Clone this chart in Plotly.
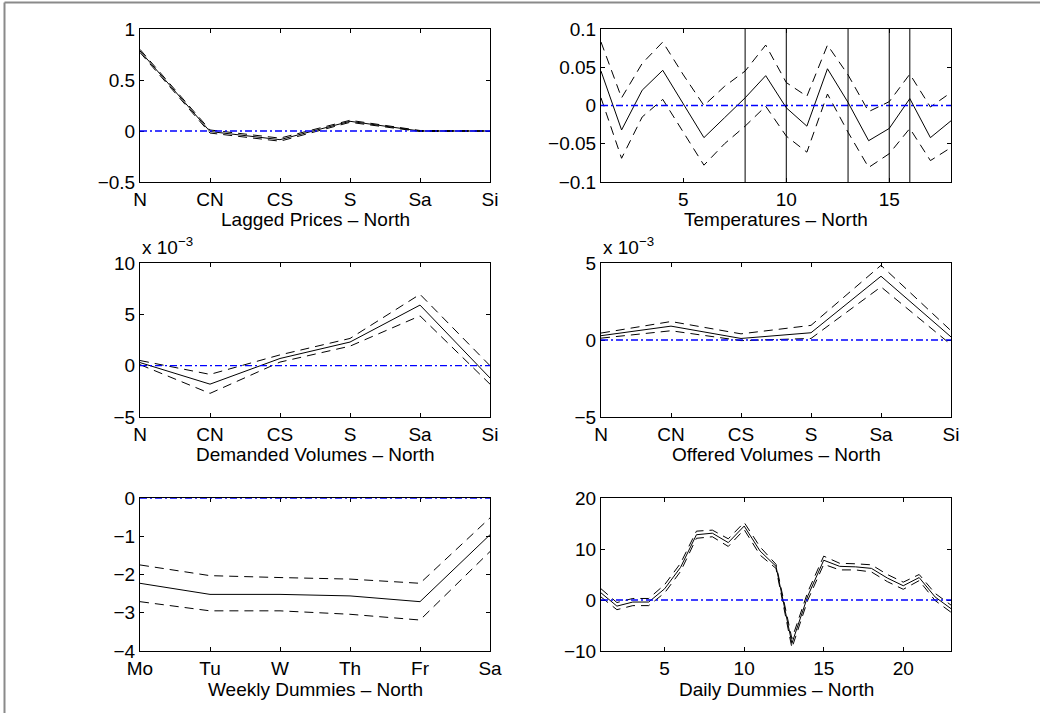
import plotly.graph_objects as go

# ---------------- data ----------------
regions = ["N", "CN", "CS", "S", "Sa", "Si"]
weekdays = ["Mo", "Tu", "W", "Th", "Fr", "Sa"]
temp_hours = list(range(1, 19))
daily_hours = list(range(1, 24))
temp_breaks = [8, 10, 13, 15, 16]

lagged_mid = [0.785, -0.005, -0.085, 0.095, 0.0, 0.0]
lagged_up = [0.80, 0.01, -0.07, 0.105, 0.005, 0.003]
lagged_lo = [0.77, -0.02, -0.10, 0.085, -0.005, -0.003]

temp_mid = [0.045, -0.032, 0.020, 0.046, 0.002, -0.042, -0.016, 0.010, 0.039,
            -0.003, -0.027, 0.048, 0.004, -0.046, -0.030, 0.009, -0.042, -0.020]
temp_up = [0.083, 0.010, 0.055, 0.083, 0.040, 0.000, 0.025, 0.045, 0.079,
           0.030, 0.012, 0.079, 0.040, -0.008, 0.005, 0.041, -0.002, 0.017]
temp_lo = [0.010, -0.069, -0.015, 0.008, -0.035, -0.078, -0.050, -0.027, -0.001,
           -0.040, -0.061, 0.015, -0.035, -0.081, -0.063, -0.030, -0.072, -0.055]

demand_mid = [0.0003, -0.0018, 0.0007, 0.0023, 0.0059, -0.0012]
demand_up = [0.0005, -0.00085, 0.00105, 0.00265, 0.00695, 0.0000]
demand_lo = [0.0001, -0.0027, 0.00035, 0.0019, 0.00485, -0.0018]

offer_mid = [0.00028, 0.0009, 0.0001, 0.00047, 0.00414, 0.0002]
offer_up = [0.00045, 0.0012, 0.0004, 0.00095, 0.00485, 0.0006]
offer_lo = [0.00012, 0.0006, -0.00004, 0.0001, 0.00345, -0.0003]

weekly_mid = [-2.23, -2.52, -2.52, -2.56, -2.71, -0.96]
weekly_up = [-1.75, -2.03, -2.08, -2.12, -2.23, -0.52]
weekly_lo = [-2.71, -2.95, -2.95, -3.04, -3.19, -1.40]

daily_mid = [1.4, -1.2, -0.4, -0.4, 2.2, 6.4, 12.8, 13.1, 11.25, 14.5, 9.6, 6.6,
             -8.5, 0.8, 7.8, 6.6, 6.5, 6.2, 4.3, 2.8, 4.4, 0.6, -1.7]
daily_up = [2.2, -0.5, 0.3, 0.3, 3.0, 7.2, 13.5, 13.7, 12.0, 15.2, 10.4, 7.0,
            -7.6, 1.6, 8.6, 7.2, 7.1, 6.9, 5.0, 3.5, 5.0, 1.3, -1.0]
daily_lo = [0.6, -1.9, -1.1, -1.1, 1.4, 5.6, 12.1, 12.4, 10.5, 13.8, 8.8, 6.2,
            -9.4, 0.0, 7.0, 5.9, 5.9, 5.5, 3.6, 2.1, 3.8, -0.1, -2.4]

titles = ["Lagged Prices \u2013 North", "Temperatures \u2013 North",
          "Demanded Volumes \u2013 North", "Offered Volumes \u2013 North",
          "Weekly Dummies \u2013 North", "Daily Dummies \u2013 North"]

# ---------------- layout geometry (pixels) ----------------
W, H = 1040, 713
cols_px = [(140, 490), (601, 951)]
rows_px = [(29, 182), (263, 417), (498, 651)]
title_y = [219, 455, 689]

FONT = "Liberation Sans, Arial, Helvetica, sans-serif"
FS = 19
DASH = "9px,6px"
BLUE_DASH = "7px,3px,2px,3px"

def xd(a, b):
    return [a / W, b / W]

def yd(top, bot):
    return [1 - bot / H, 1 - top / H]

fig = go.Figure()

panels = [
    (regions, lagged_mid, lagged_up, lagged_lo),
    (temp_hours, temp_mid, temp_up, temp_lo),
    (regions, demand_mid, demand_up, demand_lo),
    (regions, offer_mid, offer_up, offer_lo),
    (weekdays, weekly_mid, weekly_up, weekly_lo),
    (daily_hours, daily_mid, daily_up, daily_lo),
]

for i, (xs, mid, up, lo) in enumerate(panels):
    n = i + 1
    xa = "x" if n == 1 else f"x{n}"
    ya = "y" if n == 1 else f"y{n}"
    for ys, dash in ((up, DASH), (lo, DASH), (mid, "solid")):
        fig.add_trace(go.Scatter(x=xs, y=ys, mode="lines", xaxis=xa, yaxis=ya,
                                 line=dict(color="black", width=1, dash=dash),
                                 showlegend=False, hoverinfo="skip"))

axis_common = dict(showline=True, linecolor="black", linewidth=1, mirror="all",
                   ticks="inside", ticklen=4, tickcolor="black", showgrid=False,
                   zeroline=False, automargin=False,
                   tickfont=dict(family=FONT, size=FS, color="black"))

layout = dict(width=W, height=H, margin=dict(l=0, r=0, t=0, b=0),
              paper_bgcolor="white", plot_bgcolor="white", showlegend=False)

xspecs = [
    dict(type="category", range=[0, 5]),
    dict(range=[1, 18], tickvals=[5, 10, 15]),
    dict(type="category", range=[0, 5]),
    dict(type="category", range=[0, 5]),
    dict(type="category", range=[0, 5]),
    dict(range=[1, 23], tickvals=[5, 10, 15, 20]),
]
yspecs = [
    dict(range=[-0.5, 1], tickvals=[-0.5, 0, 0.5, 1]),
    dict(range=[-0.1, 0.1], tickvals=[-0.1, -0.05, 0, 0.05, 0.1],
         ticktext=["\u22120.1", "\u22120.05", "0", "0.05", "0.1"]),
    dict(range=[-0.005, 0.010], tickvals=[-0.005, 0, 0.005, 0.010],
         ticktext=["\u22125", "0", "5", "10"]),
    dict(range=[-0.005, 0.005], tickvals=[-0.005, 0, 0.005],
         ticktext=["\u22125", "0", "5"]),
    dict(range=[-4, 0], tickvals=[-4, -3, -2, -1, 0]),
    dict(range=[-10, 20], tickvals=[-10, 0, 10, 20]),
]

annotations = []
shapes = []
for i in range(6):
    n = i + 1
    r, c = divmod(i, 2)
    xk = "xaxis" if n == 1 else f"xaxis{n}"
    yk = "yaxis" if n == 1 else f"yaxis{n}"
    xa = "x" if n == 1 else f"x{n}"
    ya = "y" if n == 1 else f"y{n}"
    layout[xk] = dict(axis_common, domain=xd(*cols_px[c]), anchor=ya, **xspecs[i])
    layout[yk] = dict(axis_common, domain=yd(*rows_px[r]), anchor=xa, **yspecs[i])
    shapes.append(dict(type="line", xref=f"{xa} domain", yref=ya, x0=0, x1=1,
                       y0=0, y1=0, layer="above",
                       line=dict(color="#0000ff", width=1.4, dash=BLUE_DASH)))
    annotations.append(dict(text=titles[i], xref="paper", yref="paper",
                            x=(cols_px[c][0] + cols_px[c][1]) / 2 / W,
                            y=1 - title_y[r] / H, xanchor="center", yanchor="middle",
                            showarrow=False,
                            font=dict(family=FONT, size=FS, color="black")))

for c in range(2):
    annotations.append(dict(text="x 10<sup>\u22123</sup>", xref="paper", yref="paper",
                            x=cols_px[c][0] / W, y=1 - 260 / H,
                            xanchor="left", yanchor="bottom", showarrow=False,
                            font=dict(family=FONT, size=FS, color="black")))

for v in temp_breaks:
    shapes.append(dict(type="line", xref="x2", yref="y2 domain", x0=v, x1=v,
                       y0=0, y1=1, layer="above",
                       line=dict(color="black", width=1)))

shapes.append(dict(type="line", xref="paper", yref="paper", x0=4.5 / W, x1=4.5 / W,
                   y0=0, y1=1 - 2.5 / H, line=dict(color="#8a8a8a", width=2)))
shapes.append(dict(type="line", xref="paper", yref="paper", x0=4.5 / W, x1=1,
                   y0=1 - 2.5 / H, y1=1 - 2.5 / H, line=dict(color="#8a8a8a", width=2)))

layout["annotations"] = annotations
layout["shapes"] = shapes
fig.update_layout(**layout)

fig.write_html("out.html", config={"displayModeBar": False},
               post_script="document.body.style.margin='0';document.body.style.overflow='hidden';")
